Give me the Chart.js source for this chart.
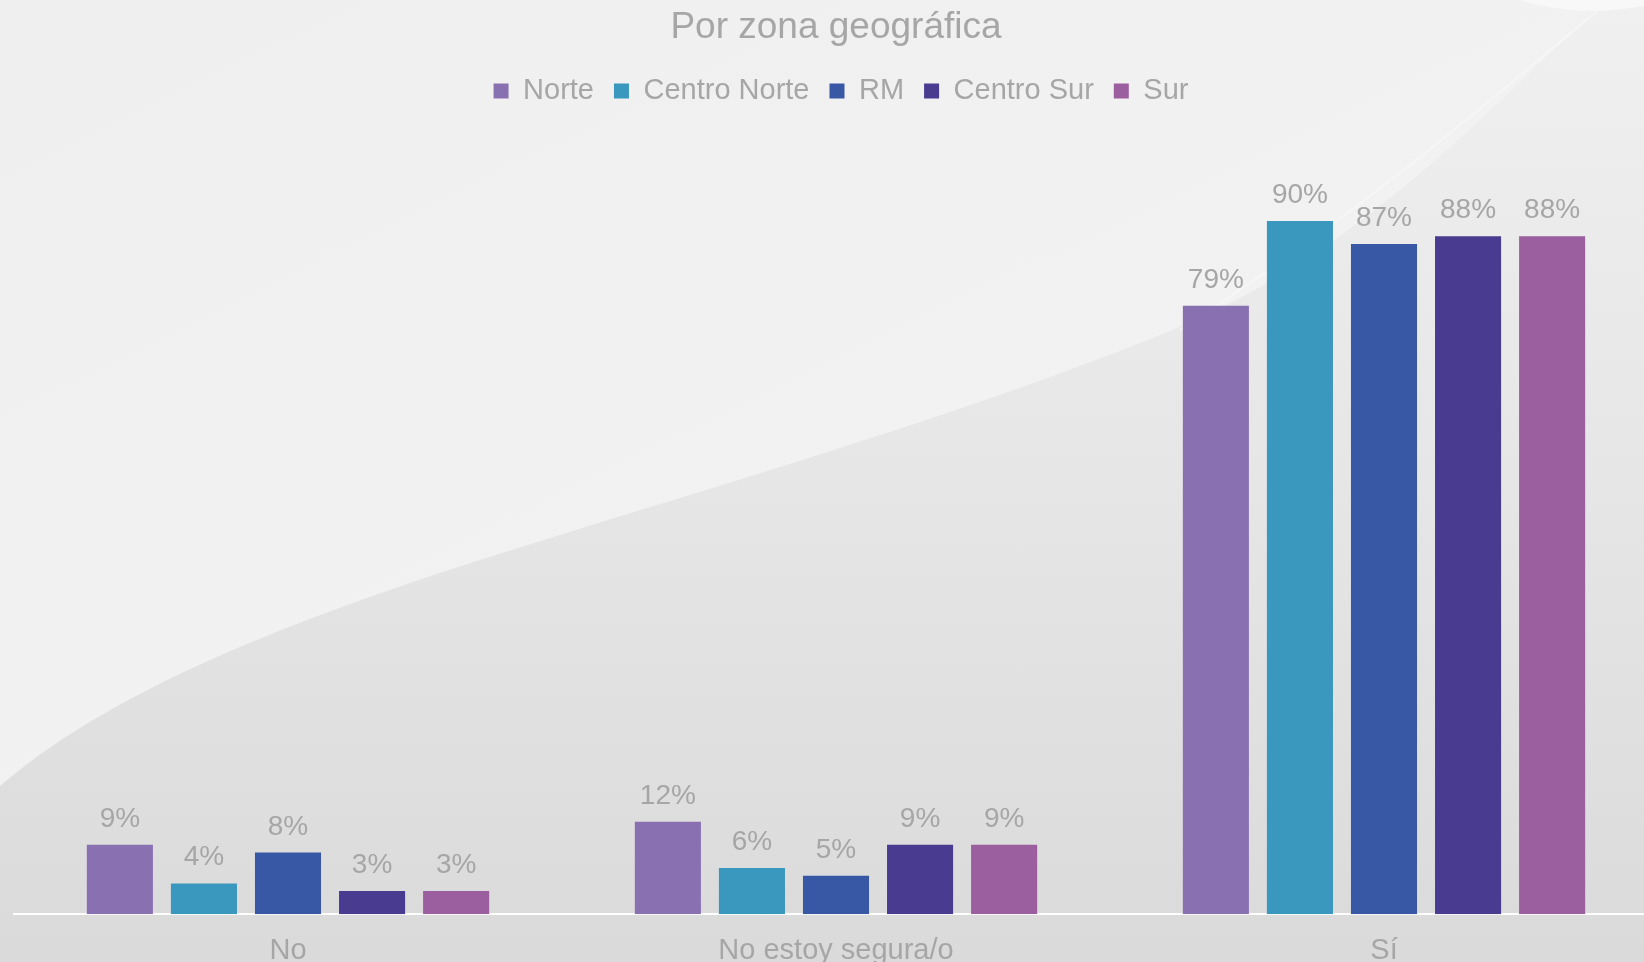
<!DOCTYPE html>
<html>
<head>
<meta charset="utf-8">
<script src="https://cdn.jsdelivr.net/npm/chart.js@4.4.0/dist/chart.umd.min.js"></script>
<style>
  html, body { margin: 0; padding: 0; width: 1644px; height: 962px; overflow: hidden; }
  #bg { position: absolute; left: 0; top: 0; }
  #chart { position: absolute; left: 0; top: 0; }
</style>
</head>
<body>
<svg id="bg" width="1644" height="962" xmlns="http://www.w3.org/2000/svg">
  <defs>
    <linearGradient id="base" x1="0" y1="0" x2="0" y2="1">
      <stop offset="0" stop-color="#f0f0f0"/>
      <stop offset="0.5" stop-color="#e6e6e6"/>
      <stop offset="1" stop-color="#dadada"/>
    </linearGradient>
    <linearGradient id="light" x1="0" y1="0" x2="1" y2="1">
      <stop offset="0" stop-color="#efefef"/>
      <stop offset="1" stop-color="#f4f4f4"/>
    </linearGradient>
  </defs>
  <rect width="1644" height="962" fill="url(#base)"/>
  <path d="M0 0 L1605 0 C1480 120 1350 260 1160 335 C950 420 700 490 480 560 C260 630 100 700 0 786 Z" fill="url(#light)"/>
  <path d="M1180 330 C1350 220 1480 110 1610 0" stroke="#f6f6f6" stroke-width="2" fill="none"/>
  <path d="M1520 0 L1644 0 L1644 6 C1600 14 1560 12 1520 0 Z" fill="#f8f8f8"/>
</svg>
<canvas id="chart" width="1660" height="979"></canvas>
<script>
// Por zona geográfica — data
const categories = ['No', 'No estoy segura/o', 'Sí'];
const zoneNames = ['Norte', 'Centro Norte', 'RM', 'Centro Sur', 'Sur'];
const norte = [9, 12, 79];
const centroNorte = [4, 6, 90];
const rm = [8, 5, 87];
const centroSur = [3, 9, 88];
const sur = [3, 9, 88];
const zoneColors = ['#8970b0', '#3a97be', '#3858a5', '#493b8f', '#9b5e9f'];

const textGray = '#a6a6a6';
const fontFamily = '"Liberation Sans", Arial, sans-serif';

// simple value labels above each bar
const barLabels = {
    id: 'barLabels',
    afterDatasetsDraw(chart) {
        const ctx = chart.ctx;
        ctx.save();
        ctx.font = '28px ' + fontFamily;
        ctx.fillStyle = textGray;
        ctx.textAlign = 'center';
        ctx.textBaseline = 'alphabetic';
        chart.data.datasets.forEach((ds, i) => {
            chart.getDatasetMeta(i).data.forEach((bar, j) => {
                ctx.fillText(ds.data[j] + '%', bar.x, bar.y - 18);
            });
        });
        ctx.restore();
    }
};

// nudge the legend a little to the right, like the original
const legendNudge = {
    id: 'legendNudge',
    afterLayout(chart) {
        if (!chart.legend) return;
        chart.legend.left += 5;
        chart.legend.right += 5;
    }
};

const seriesValues = [norte, centroNorte, rm, centroSur, sur];

new Chart(document.getElementById('chart'), {
    type: 'bar',
    data: {
        labels: categories,
        datasets: zoneNames.map((name, i) => ({
            label: name,
            data: seriesValues[i],
            backgroundColor: zoneColors[i],
            borderWidth: 0,
            categoryPercentage: 0.767,
            barPercentage: 0.786
        }))
    },
    options: {
        responsive: false,
        animation: false,
        devicePixelRatio: 1,
        layout: { padding: { left: 14, right: 2, top: 0, bottom: 0 } },
        scales: {
            x: {
                grid: { display: false },
                border: { display: true, color: '#ffffff', width: 2 },
                ticks: {
                    color: textGray,
                    padding: 11,
                    font: { family: fontFamily, size: 29 }
                }
            },
            y: {
                display: false,
                min: 0,
                max: 103.7
            }
        },
        plugins: {
            title: {
                display: true,
                text: 'Por zona geográfica',
                color: textGray,
                font: { family: fontFamily, size: 37, weight: 'normal' },
                padding: { top: 6, bottom: 6 }
            },
            legend: {
                position: 'top',
                labels: {
                    color: textGray,
                    boxWidth: 15,
                    boxHeight: 15,
                    padding: 20,
                    font: { family: fontFamily, size: 29 }
                }
            },
            tooltip: { enabled: false }
        }
    },
    plugins: [barLabels, legendNudge]
});
</script>
</body>
</html>
